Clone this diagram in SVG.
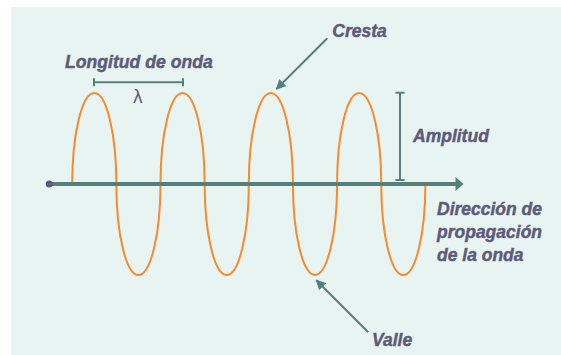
<svg xmlns="http://www.w3.org/2000/svg" width="561" height="355" viewBox="0 0 561 355">
<defs>
<style>
.lbl{font-family:"Liberation Sans",Arial,sans-serif;font-weight:bold;font-style:italic;font-size:17.5px;fill:#5e5a7a;stroke:#5e5a7a;stroke-width:0.45}
.tl{stroke:#567f7c;stroke-width:2;fill:none}
</style>
<marker id="ah" viewBox="0 0 10 10" refX="9" refY="5" markerWidth="10" markerHeight="10" markerUnits="userSpaceOnUse" orient="auto">
<path d="M0,0 L10,5 L0,10 z" fill="#567f7c"/>
</marker>
</defs>
<rect x="11" y="7" width="550" height="348" fill="#e8f4f2"/>
<g id="wave">
<path d="M72.2,184 a22.075,91 0 0 1 44.15,0 a22.075,91 0 0 0 44.15,0 a22.075,91 0 0 1 44.15,0 a22.075,91 0 0 0 44.15,0 a22.075,91 0 0 1 44.15,0 a22.075,91 0 0 0 44.15,0 a22.075,91 0 0 1 44.15,0 a22.075,91 0 0 0 44.15,0" fill="none" stroke="#f58a2e" stroke-width="2"/>
</g>
<g id="axis">
<line x1="49" y1="184" x2="457" y2="184" stroke="#567f7c" stroke-width="4"/>
<polygon points="455.5,177 463.5,184 455.5,191" fill="#567f7c"/>
<circle cx="49.3" cy="184" r="3.6" fill="#5e5a7a"/>
</g>
<g id="connectors">
<path class="tl" d="M94,82.3 H183 M94,78.3 V86.3 M183,78.3 V86.3"/>
<path class="tl" d="M400,92.7 V180 M395.5,92.7 H404.5 M395.5,180 H404.5"/>
<line class="tl" x1="327.3" y1="38.3" x2="276.5" y2="89" marker-end="url(#ah)"/>
<line class="tl" x1="368.3" y1="332.3" x2="316.3" y2="280.3" marker-end="url(#ah)"/>
</g>
<g id="longitud">
<text class="lbl" x="65" y="67.7" textLength="147.7" lengthAdjust="spacingAndGlyphs">Longitud de onda</text>
<text x="137.7" y="103.3" text-anchor="middle" font-family="DejaVu Sans,sans-serif" font-size="17" fill="#5e5a7a">λ</text>
</g>
<g id="cresta"><text class="lbl" x="332.3" y="36.7">Cresta</text></g>
<g id="amplitud"><text class="lbl" x="413" y="141.7">Amplitud</text></g>
<g id="direccion">
<text class="lbl" x="437" y="215">Dirección de</text>
<text class="lbl" x="437" y="238">propagación</text>
<text class="lbl" x="437" y="261">de la onda</text>
</g>
<g id="valle"><text class="lbl" x="372" y="346">Valle</text></g>
</svg>
